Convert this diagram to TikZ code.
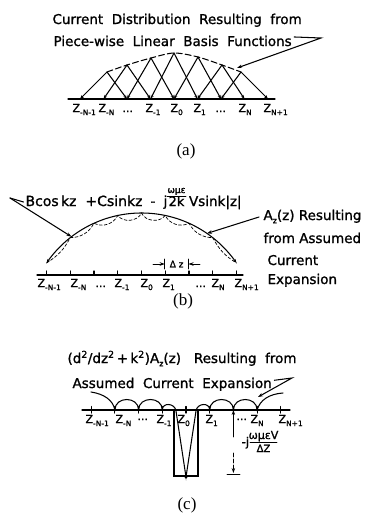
\documentclass[tikz,border=0pt]{standalone}
\usepackage{fontspec}
\setmainfont{DejaVu Sans}[UprightFeatures={FakeBold=1.2}]
\newfontfamily\capfont{Liberation Serif}
\usetikzlibrary{arrows.meta}
\newcommand\zlab[1]{Z\raisebox{-0.5ex}{\fontsize{7.5}{8}\selectfont#1}}
\newcommand\subz[1]{\raisebox{-0.45ex}{\fontsize{8}{8}\selectfont#1}}
\begin{document}
\begin{tikzpicture}[x=1pt,y=-1pt,line width=1.05pt,line cap=round,
  txt/.style={inner sep=0pt,anchor=base west,font=\fontsize{13.5}{16}\selectfont},
  zl/.style={inner sep=0pt,anchor=base west,font=\fontsize{11}{12}\selectfont},
  dl/.style={inner sep=0pt,font=\fontsize{9}{10}\selectfont},
  captxt/.style={inner sep=0pt,font=\capfont\fontsize{17}{19}\selectfont},
  tip/.style={-{Stealth[length=5pt,width=3.5pt]}},
  tips/.style={{Stealth[length=4pt,width=3pt]}-{Stealth[length=4pt,width=3pt]}},
  dsh/.style={dash pattern=on 6pt off 3pt},
  sdsh/.style={dash pattern=on 3pt off 2pt,line width=0.7pt},
]
\useasboundingbox (0,0) rectangle (368,514);

% ---------------- (a) ----------------
\foreach \i/\x in {1/80,2/103.5,3/127,4/150.5,5/174,6/197.5,7/221,8/244.5,9/268}
  \coordinate (a\i) at (\x,99);
\foreach \i/\x/\y in {2/107/72,3/127/65,4/151/58,5/174/53,6/198/57,7/222/65,8/241/72}
  \coordinate (p\i) at (\x,\y);
\coordinate (axAL) at (68,99); \coordinate (axAR) at (275,99);
\draw (axAL) -- (axAR);
\foreach \l/\i/\r in {1/2/3,2/3/4,3/4/5,4/5/6,5/6/7,6/7/8,7/8/9}
  \draw[tips] (a\l) -- (p\i) -- (a\r);
\draw[dsh] plot[smooth] coordinates {(p2) (p3) (p4) (p5) (p6) (p7) (p8)};

\node[zl] (za1) at (72,112) {\zlab{-N-1}};
\node[zl] (za2) at (98,112) {\zlab{-N}};
\node[zl] (za3) at (122,112) {...};
\node[zl] (za4) at (145,112) {\zlab{-1}};
\node[zl] (za5) at (170,112) {\zlab{0}};
\node[zl] (za6) at (193,112) {\zlab{1}};
\node[zl] (za7) at (215,112) {...};
\node[zl] (za8) at (238,112) {\zlab{N}};
\node[zl] (za9) at (263,112) {\zlab{N+1}};

\node[txt] (ta1) at (52,24) {Current\ \ Distribution\ \ Resulting\ \ from};
\node[txt] (ta2) at (53,46) {Piece-wise\ \ Linear\ \ Basis\ \ Functions};
\coordinate (ka) at (321,38); \coordinate (ea) at (237,68);
\draw[tip] ([xshift=2pt,yshift=4pt]ta2.east) -- (ka) -- (ea);

\node[captxt] (capa) at (186,151) {(a)};

% ---------------- (b) ----------------
\coordinate (axBL) at (37,275); \coordinate (axBR) at (243,275);
\draw (axBL) -- (axBR);
\foreach \i in {1,...,9}{
  \pgfmathsetmacro\xx{141.5+23.75*(\i-5)}
  \pgfmathsetmacro\yy{328.25-sqrt(13282.56-(\xx-141.5)^2)}
  \coordinate (b\i) at (\xx,275);
  \coordinate (q\i) at (\xx,\yy);
  \draw (b\i) -- ++(0,-4);
}
\draw[tips] plot[domain=46.5:236.5,samples=90] (\x,{328.25-sqrt(13282.56-(\x-141.5)^2)});
\draw[sdsh] (q1) to[bend right=15] (q2) to[bend right=30] (q3) to[bend right=45] (q4)
  to[bend right=60] (q5) to[bend right=60] (q6) to[bend right=45] (q7)
  to[bend right=30] (q8) to[bend right=15] (q9);

\node[zl] (zb1) at (37,287) {\zlab{-N-1}};
\node[zl] (zb2) at (70,287) {\zlab{-N}};
\node[zl] (zb3) at (95,287) {...};
\node[zl] (zb4) at (114,287) {\zlab{-1}};
\node[zl] (zb5) at (140,287) {\zlab{0}};
\node[zl] (zb6) at (162,287) {\zlab{1}};
\node[zl] (zb7) at (195,287) {...};
\node[zl] (zb8) at (211,287) {\zlab{N}};
\node[zl] (zb9) at (234,287) {\zlab{N+1}};

% delta z
\coordinate (dzA1) at (164.75,259); \coordinate (dzA2) at (164.75,269);
\coordinate (dzB1) at (188.5,259); \coordinate (dzB2) at (188.5,269);
\draw[line width=0.8pt] (dzA1) -- (dzA2); \draw[line width=0.8pt] (dzB1) -- (dzB2);
\coordinate (dzL) at (153,264); \coordinate (dzLe) at (164.75,264);
\coordinate (dzR) at (200,264); \coordinate (dzRe) at (188.5,264);
\draw[tip,line width=0.8pt] (dzL) -- (dzLe);
\draw[tip,line width=0.8pt] (dzR) -- (dzRe);
\node[dl] (dzt) at (176.6,264) {Δ z};

% top formula
\node[txt,font=\fontsize{14}{16}\selectfont] (tb) at (25,206)
  {Bcos\,kz\hspace{9pt}+Csinkz\hspace{8pt}-\hspace{8pt}j};
\node[inner sep=0pt,anchor=base,font=\fontsize{9}{10}\selectfont] (fnum) at (176.5,193) {ωμε};
\node[inner sep=0pt,anchor=base,font=\fontsize{13}{16}\selectfont] (fden) at (176.5,206) {2k};
\coordinate (fb1) at (167,196.5); \coordinate (fb2) at (186,196.5);
\draw[line width=0.8pt] (fb1) -- (fb2);
\node[txt,font=\fontsize{13.5}{16}\selectfont] (tbv) at (188.5,206) {Vsink|z|};
\coordinate (kb) at (10,198);
\coordinate (eb1) at (71.5,236.7);
\draw ([xshift=-1.5pt,yshift=4pt]tb.base west) -- (kb);
\draw[tip] (kb) -- (eb1);

% right text
\node[txt] (tr1) at (263,220) {A\subz{z}(z) Resulting};
\node[txt] (tr2) at (263,243) {from Assumed};
\node[txt] (tr3) at (267,265) {Current};
\node[txt] (tr4) at (267,284) {Expansion};
\coordinate (kr) at (259,217); \coordinate (eb2) at (207,233.4);
\draw[tip] (kr) -- (eb2);

\node[captxt] (capb) at (183,301) {(b)};

% ---------------- (c) ----------------
\coordinate (axCL) at (82,410); \coordinate (axCR) at (290,410);
\draw (axCL) -- (axCR);
\foreach \i in {1,...,9}{
  \pgfmathsetmacro\xx{186+23.7*(\i-5)}
  \coordinate (c\i) at (\xx,410);
  \draw ([yshift=3.5pt]c\i) -- ([yshift=-3pt]c\i);
}
% tails and humps
\coordinate (tl) at (91,392);
\draw (tl) .. controls (104,394) and (113,400) .. (c2);
\draw (c2) .. controls +(0,-14) and +(0,-14) .. (c3);
\draw (c3) .. controls +(0,-14) and +(0,-14) .. (c4);
\coordinate (vl) at (176,411); \coordinate (vr) at (196,411);
\coordinate (vb) at (186,477);
\draw (c4) .. controls +(0,-8) and +(-1,-8) .. (vl) -- (vb) -- (vr)
  .. controls +(1,-8) and +(0,-8) .. (c6);
\draw (c6) .. controls +(0,-14) and +(0,-14) .. (c7);
\draw (c7) .. controls +(0,-14) and +(0,-14) .. (c8);
\coordinate (tr) at (283,393);
\draw (c8) .. controls (260,400) and (269,394) .. (tr);
% pulse
\coordinate (rtl) at (174,410); \coordinate (rbr) at (198,476);
\draw (rtl) rectangle (rbr);
\fill (vb) circle (1.6);
\foreach \i in {2,3,8} \fill (c\i) circle (1.4);

\node[zl] (zc1) at (85,423) {\zlab{-N-1}};
\node[zl] (zc2) at (115,423) {\zlab{-N}};
\node[zl] (zc3) at (137,420) {...};
\node[zl] (zc4) at (156,423) {\zlab{-1}};
\node[zl] (zc5) at (177,423) {\zlab{0}};
\node[zl] (zc6) at (205,423) {\zlab{1}};
\node[zl] (zc7) at (236,420) {...};
\node[zl] (zc8) at (250,423) {\zlab{N}};
\node[zl] (zc9) at (278,423) {\zlab{N+1}};

% dimension
\coordinate (d1) at (233.4,437); \coordinate (d2) at (233.4,453);
\coordinate (d3) at (233.4,473);
\coordinate (bl) at (227,474); \coordinate (br) at (240,474);
\draw[tip,line width=0.8pt] (d1) -- (c7);
\draw[tip,line width=0.8pt,dash pattern=on 4pt off 2pt] (d2) -- (d3);
\draw[line width=0.8pt] (bl) -- (br);
\node[inner sep=0pt,anchor=base west,font=\fontsize{12}{13}\selectfont] (jm) at (241,446) {-j};
\node[inner sep=0pt,anchor=base,font=\fontsize{11}{12}\selectfont] (jn) at (263.5,439) {ωμεV};
\node[inner sep=0pt,anchor=base,font=\fontsize{10}{11}\selectfont] (jd) at (263.5,452) {ΔZ};
\coordinate (jb1) at (250,442); \coordinate (jb2) at (277,442);
\draw[line width=0.8pt] (jb1) -- (jb2);

\node[txt] (tc1) at (67,363) {(d\textsuperscript{2}/dz\textsuperscript{2}\,+\,k\textsuperscript{2})A\subz{z}(z)\ \ \ Resulting\ \ from};
\node[txt] (tc2) at (72,388) {Assumed\ \ Current\ \ Expansion};
\coordinate (kc) at (292,378); \coordinate (ec) at (258,397);
\draw[tip] ([xshift=2pt,yshift=4pt]tc2.east) -- (kc) -- (ec);

\node[captxt] (capc) at (187,505) {(c)};
\end{tikzpicture}
\end{document}
